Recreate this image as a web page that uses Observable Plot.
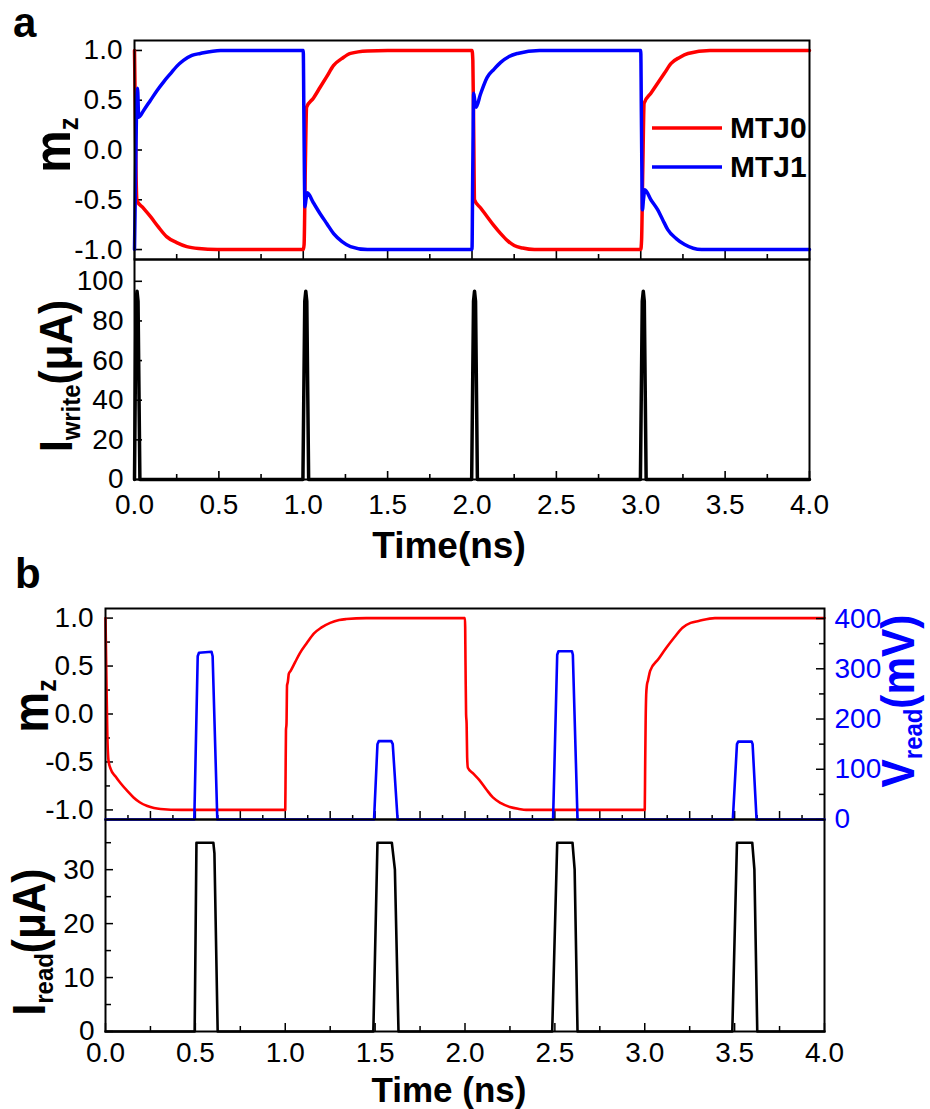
<!DOCTYPE html>
<html>
<head>
<meta charset="utf-8">
<script src="https://cdn.jsdelivr.net/npm/d3@7"></script>
<script src="https://cdn.jsdelivr.net/npm/@observablehq/plot@0.6"></script>
<style>
html, body { margin: 0; padding: 0; background: #fff; }
#wrap { position: relative; width: 930px; height: 1109px; overflow: hidden; background: #fff; }
#wrap svg { position: absolute; left: 0; }
</style>
</head>
<body>
<div id="wrap"></div>
<script>
// ---------------- tick values ----------------
const xTicks = [0, 0.5, 1, 1.5, 2, 2.5, 3, 3.5, 4];
const xMinor = [0.25, 0.75, 1.25, 1.75, 2.25, 2.75, 3.25, 3.75];
const xMajorB = [0.25, 0.5, 0.75, 1, 1.25, 1.5, 1.75, 2, 2.25, 2.5, 2.75, 3, 3.25, 3.5, 3.75];
const xMinorB = [0.125, 0.375, 0.625, 0.875, 1.125, 1.375, 1.625, 1.875, 2.125, 2.375, 2.625, 2.875, 3.125, 3.375, 3.625, 3.875];
const mzTicks = [-1, -0.5, 0, 0.5, 1];
const mzMinor = [-0.75, -0.25, 0.25, 0.75];
const iwTicks = [0, 20, 40, 60, 80, 100];
const irTicks = [0, 10, 20, 30];
const irMinor = [5, 15, 25, 35];
const vTicks = [0, 100, 200, 300, 400];
const vMinor = [50, 150, 250, 350];

// ---------------- panel a : m_z of MTJ0 / MTJ1 ----------------
const mtj0T = [0, 0.004, 0.008, 0.015, 0.05, 0.095, 0.14, 0.19, 0.25, 0.31, 0.38, 0.49, 1.0,
  1.005, 1.012, 1.02, 1.06, 1.10, 1.14, 1.18, 1.23, 1.28, 1.38, 1.5, 2.0,
  2.005, 2.01, 2.015, 2.05, 2.09, 2.13, 2.17, 2.21, 2.25, 2.3, 2.37, 2.5, 3.0,
  3.005, 3.012, 3.02, 3.06, 3.1, 3.14, 3.18, 3.23, 3.28, 3.41, 3.5, 4.0];
const mtj0V = [1.0, 0.5, -0.1, -0.51, -0.58, -0.67, -0.77, -0.87, -0.93, -0.97, -0.99, -1.0, -1.0,
  -0.95, -0.2, 0.43, 0.52, 0.63, 0.74, 0.85, 0.92, 0.97, 0.995, 1.0, 1.0,
  0.9, 0.2, -0.5, -0.58, -0.67, -0.76, -0.84, -0.91, -0.96, -0.985, -1.0, -1.0, -1.0,
  -0.9, -0.2, 0.47, 0.57, 0.67, 0.77, 0.87, 0.93, 0.97, 1.0, 1.0, 1.0];

const mtj1T = [0, 0.006, 0.012, 0.018, 0.025, 0.055, 0.095, 0.135, 0.175, 0.215, 0.25, 0.29, 0.34, 0.39, 0.51, 1.0,
  1.004, 1.01, 1.016, 1.024, 1.06, 1.10, 1.14, 1.18, 1.23, 1.28, 1.38, 1.5, 2.0,
  2.004, 2.01, 2.016, 2.024, 2.05, 2.09, 2.13, 2.17, 2.22, 2.27, 2.4, 3.0,
  3.004, 3.01, 3.016, 3.024, 3.06, 3.1, 3.13, 3.16, 3.21, 3.26, 3.36, 3.5, 4.0];
const mtj1V = [-1.0, -0.3, 0.4, 0.62, 0.33, 0.40, 0.50, 0.60, 0.69, 0.77, 0.84, 0.90, 0.95, 0.97, 1.0, 1.0,
  0.3, -0.57, -0.50, -0.43, -0.53, -0.64, -0.74, -0.84, -0.92, -0.97, -1.0, -1.0, -1.0,
  -0.3, 0.57, 0.50, 0.43, 0.56, 0.73, 0.81, 0.88, 0.94, 0.97, 1.0, 1.0,
  0.3, -0.6, -0.5, -0.4, -0.5, -0.6, -0.7, -0.8, -0.89, -0.95, -1.0, -1.0, -1.0];

// ---------------- panel a : I_write (µA) ----------------
const iwT = [0, 0.009, 0.015, 0.021, 0.032, 0.998, 1.009, 1.015, 1.021, 1.032,
  1.998, 2.009, 2.015, 2.021, 2.032, 2.998, 3.009, 3.015, 3.021, 3.032, 4.0];
const iwV = [0, 90, 95, 90, 0, 0, 90, 95, 90, 0,
  0, 90, 95, 90, 0, 0, 90, 95, 90, 0, 0];

// ---------------- panel b : m_z ----------------
const rbT = [0, 0.004, 0.01, 0.017, 0.028, 0.055, 0.083, 0.12, 0.156, 0.19, 0.233, 0.27, 0.306, 0.42, 1.0,
  1.002, 1.004, 1.007, 1.01, 1.014, 1.02, 1.03, 1.055, 1.08, 1.12, 1.16, 1.2, 1.25, 1.3, 1.34, 1.45, 2.0,
  2.003, 2.006, 2.009, 2.012, 2.016, 2.045, 2.08, 2.12, 2.155, 2.2, 2.25, 2.3, 2.34, 2.45, 3.0,
  3.002, 3.005, 3.008, 3.012, 3.018, 3.03, 3.075, 3.12, 3.165, 3.21, 3.255, 3.3, 3.39, 3.5, 4.0];
const rbV = [1.0, 0.5, -0.2, -0.49, -0.57, -0.65, -0.72, -0.8, -0.87, -0.92, -0.96, -0.98, -0.99, -1.0, -1.0,
  -0.6, -0.17, -0.1, 0.3, 0.33, 0.42, 0.45, 0.54, 0.63, 0.74, 0.84, 0.9, 0.95, 0.98, 0.99, 1.0, 1.0,
  0.5, 0.0, -0.1, -0.45, -0.56, -0.62, -0.69, -0.79, -0.87, -0.93, -0.97, -0.99, -1.0, -1.0, -1.0,
  -0.6, -0.07, 0.2, 0.3, 0.35, 0.45, 0.57, 0.69, 0.8, 0.9, 0.95, 0.97, 1.0, 1.0, 1.0];

// ---------------- panel b : V_read (mV) ----------------
const vT = [0, 0.494, 0.513, 0.52, 0.59, 0.596, 0.622, 1.494, 1.513, 1.52, 1.59, 1.598, 1.625,
  2.49, 2.513, 2.52, 2.595, 2.6, 2.626, 3.49, 3.513, 3.52, 3.595, 3.6, 3.622, 4.0];
const vV = [0, 0, 325, 332, 334, 325, 0, 0, 150, 156, 156, 150, 0,
  0, 328, 335, 335, 328, 0, 0, 150, 155, 155, 150, 0, 0];

// ---------------- panel b : I_read (µA) ----------------
const irT = [0, 0.496, 0.506, 0.6, 0.606, 0.624, 1.49, 1.513, 1.593, 1.61, 1.63,
  2.485, 2.513, 2.598, 2.61, 2.626, 3.487, 3.513, 3.598, 3.61, 3.626, 4.0];
const irV = [0, 0, 35, 35, 33, 0, 0, 35, 35, 30, 0,
  0, 35, 35, 30, 0, 0, 35, 35, 30, 0, 0];

// ---------------- build ----------------
const FONT = "'Liberation Sans', Arial, Helvetica, sans-serif";
const zipTV = (T, V) => T.map((t, i) => ({t, v: V[i]}));
const mtj0 = zipTV(mtj0T, mtj0V);
const mtj1 = zipTV(mtj1T, mtj1V);
const iw = zipTV(iwT, iwV);
const rb = zipTV(rbT, rbV);
const vr = zipTV(vT, vV);
const ir = zipTV(irT, irV);

const wrap = document.getElementById("wrap");
const baseStyle = {fontFamily: FONT, fontSize: "28px", overflow: "visible", background: "transparent", color: "black"};
const f1 = d => d.toFixed(1);
function place(svg, top) { svg.style.position = "absolute"; svg.style.left = "0px"; svg.style.top = top + "px"; wrap.appendChild(svg); }

// Panel a frame: x 134..809 ; top plot y 40..259 ; bottom plot y 259..479
const aW = 675;
const aTopH = 219;
place(Plot.plot({
  width: 930, height: 259, marginLeft: 134, marginRight: 121, marginTop: 40, marginBottom: 0,
  style: baseStyle,
  x: {domain: [0, 4], axis: null},
  y: {domain: [-1.1, 1.1], axis: null},
  marks: [
    Plot.tickX(xTicks, {x: d => d, insetTop: aTopH - 8, strokeWidth: 1.6}),
    Plot.tickX(xMinor, {x: d => d, insetTop: aTopH - 5, strokeWidth: 1.6}),
    Plot.tickY(mzTicks, {y: d => d, insetRight: aW - 8, strokeWidth: 1.6}),
    Plot.line(mtj0, {x: "t", y: "v", stroke: "#ff0000", strokeWidth: 3.5, curve: "monotone-x"}),
    Plot.line(mtj1, {x: "t", y: "v", stroke: "#0000ff", strokeWidth: 3.5, curve: "monotone-x"}),
    Plot.frame({stroke: "black", strokeWidth: 2}),
    Plot.axisY({ticks: mzTicks, tickSize: 0, tickPadding: 12, tickFormat: f1, label: null})
  ]
}), 0);

const aBotH = 220;
place(Plot.plot({
  width: 930, height: aBotH + 90, marginLeft: 134, marginRight: 121, marginTop: 0, marginBottom: 90,
  style: baseStyle,
  x: {domain: [0, 4], axis: null},
  y: {domain: [0, 111], axis: null},
  marks: [
    Plot.tickX(xTicks, {x: d => d, insetTop: aBotH - 8, strokeWidth: 1.6}),
    Plot.tickX(xMinor, {x: d => d, insetTop: aBotH - 5, strokeWidth: 1.6}),
    Plot.tickY(iwTicks, {y: d => d, insetRight: aW - 8, strokeWidth: 1.6}),
    Plot.line(iw, {x: "t", y: "v", stroke: "black", strokeWidth: 3.5}),
    Plot.frame({stroke: "black", strokeWidth: 2}),
    Plot.axisY({ticks: iwTicks, tickSize: 0, tickPadding: 11, tickFormat: d => String(d), label: null}),
    Plot.axisX({ticks: xTicks, tickSize: 0, tickPadding: 15, tickFormat: f1, label: null})
  ]
}), 259);

// Panel b frame: x 105..824 ; top plot y 608..819 ; bottom plot y 819..1031
const bW = 719;
const bTopH = 211;
place(Plot.plot({
  width: 930, height: bTopH, marginLeft: 105, marginRight: 106, marginTop: 0, marginBottom: 0,
  style: baseStyle,
  x: {domain: [0, 4], axis: null},
  y: {domain: [-1.1, 1.1], axis: null},
  marks: [
    Plot.tickX(xMajorB, {x: d => d, insetTop: bTopH - 8, strokeWidth: 1.5}),
    Plot.tickX(xMinorB, {x: d => d, insetTop: bTopH - 4, strokeWidth: 1.5}),
    Plot.tickY(mzTicks, {y: d => d, insetRight: bW - 8, strokeWidth: 1.5}),
    Plot.tickY(mzMinor, {y: d => d, insetRight: bW - 5, strokeWidth: 1.5}),
    Plot.line(rb, {x: "t", y: "v", stroke: "#ff0000", strokeWidth: 2.6, curve: "monotone-x"}),
    Plot.frame({stroke: "black", strokeWidth: 2}),
    Plot.axisY({ticks: mzTicks, tickSize: 0, tickPadding: 12, tickFormat: f1, label: null})
  ]
}), 608);

place(Plot.plot({
  width: 930, height: bTopH, marginLeft: 105, marginRight: 106, marginTop: 0, marginBottom: 0,
  style: baseStyle,
  x: {domain: [0, 4], axis: null},
  y: {domain: [0, 420], axis: null},
  marks: [
    Plot.tickY(vTicks, {y: d => d, insetLeft: bW - 8, strokeWidth: 1.5}),
    Plot.tickY(vMinor, {y: d => d, insetLeft: bW - 5, strokeWidth: 1.5}),
    Plot.line(vr, {x: "t", y: "v", stroke: "#0000ff", strokeWidth: 2.6}),
    Plot.axisY({anchor: "right", ticks: vTicks, tickSize: 0, tickPadding: 10, fill: "#0000ff", tickFormat: d => String(d), label: null})
  ]
}), 608);

const bBotH = 212;
place(Plot.plot({
  width: 930, height: bBotH + 90, marginLeft: 105, marginRight: 106, marginTop: 0, marginBottom: 90,
  style: baseStyle,
  x: {domain: [0, 4], axis: null},
  y: {domain: [0, 39.3], axis: null},
  marks: [
    Plot.tickX(xTicks, {x: d => d, insetTop: bBotH - 8, strokeWidth: 1.5}),
    Plot.tickX(xMinor, {x: d => d, insetTop: bBotH - 5, strokeWidth: 1.5}),
    Plot.tickY(irTicks, {y: d => d, insetRight: bW - 8, strokeWidth: 1.5}),
    Plot.tickY(irMinor, {y: d => d, insetRight: bW - 6, strokeWidth: 1.5}),
    Plot.line(ir, {x: "t", y: "v", stroke: "black", strokeWidth: 2.6}),
    Plot.frame({stroke: "black", strokeWidth: 2}),
    Plot.axisY({ticks: irTicks, tickSize: 0, tickPadding: 11, tickFormat: d => String(d), label: null}),
    Plot.axisX({ticks: xTicks, tickSize: 0, tickPadding: 11, tickFormat: f1, label: null})
  ]
}), 819);

// ---------------- text overlay (titles, labels, legend) ----------------
const ov = d3.create("svg")
  .attr("width", 930).attr("height", 1109)
  .style("position", "absolute").style("left", "0px").style("top", "0px")
  .style("font-family", FONT).style("font-weight", "bold");

function letter(txt, x, y) {
  ov.append("text").attr("x", x).attr("y", y).attr("font-size", 42).text(txt);
}
letter("a", 13, 37);
letter("b", 15, 588);

function rotLabel(cx, cy, main, sub, rest, size, subSize, fill) {
  const t = ov.append("text")
    .attr("transform", `translate(${cx},${cy}) rotate(-90) scale(0.92,1)`)
    .attr("text-anchor", "middle").attr("font-size", size).attr("fill", fill || "black");
  t.append("tspan").text(main);
  t.append("tspan").attr("font-size", subSize).attr("dy", subSize * 0.3).text(sub);
  if (rest) t.append("tspan").attr("dy", -subSize * 0.3).text(rest);
}
rotLabel(70, 145, "m", "z", null, 52, 28);
rotLabel(72, 376, "I", "write", "(μA)", 46, 26);
rotLabel(48, 706, "m", "z", null, 50, 27);
rotLabel(45, 942, "I", "read", "(μA)", 46, 26);
rotLabel(914, 701, "V", "read", "(mV)", 46, 26, "#0000ff");

ov.append("text").attr("x", 449).attr("y", 558).attr("text-anchor", "middle").attr("font-size", 37).text("Time(ns)");
ov.append("text").attr("x", 449).attr("y", 1102).attr("text-anchor", "middle").attr("font-size", 35).text("Time (ns)");

// legend
const legend = [{name: "MTJ0", color: "#ff0000", y: 128}, {name: "MTJ1", color: "#0000ff", y: 167}];
for (const l of legend) {
  ov.append("line").attr("x1", 652).attr("x2", 722).attr("y1", l.y).attr("y2", l.y)
    .attr("stroke", l.color).attr("stroke-width", 3.5);
  ov.append("text").attr("x", 730).attr("y", l.y + 10).attr("font-size", 30).text(l.name);
}
wrap.appendChild(ov.node());
</script>
</body>
</html>
